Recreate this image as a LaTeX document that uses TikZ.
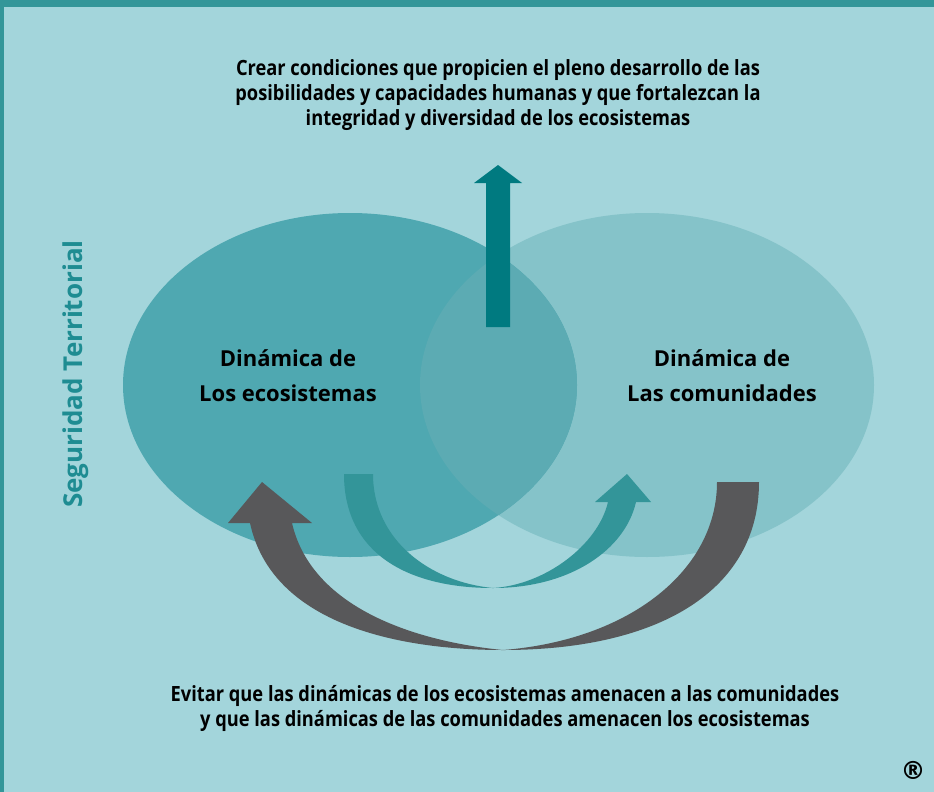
\documentclass[tikz,border=0pt]{standalone}
\usepackage{fontspec}
\setmainfont{Open Sans}
\newfontfamily\condfont[FakeStretch=0.87]{Open Sans}
\newfontfamily\symfont{DejaVu Sans}
\definecolor{bgc}{HTML}{A3D5DB}
\definecolor{framec}{HTML}{339699}
\definecolor{leftell}{HTML}{4FA8B1}
\definecolor{rightell}{HTML}{85C3C9}
\definecolor{overlapc}{HTML}{5CABB3}
\definecolor{tealarrow}{HTML}{339599}
\definecolor{uparrowc}{HTML}{007A80}
\definecolor{grayarrow}{HTML}{58585A}
\definecolor{titlec}{HTML}{1E8C92}
\tikzset{
  headtext/.style={align=center, inner sep=0pt, font=\condfont\bfseries\fontsize{21}{25}\selectfont, text=black},
  ringtext/.style={align=center, inner sep=0pt, font=\bfseries\fontsize{22}{35}\selectfont, text=black},
}
\begin{document}
\begin{tikzpicture}[x=1pt,y=-1pt]
\useasboundingbox (0,0) rectangle (934,792);
\fill[bgc] (0,0) rectangle (934,792);
\fill[framec] (0,0) rectangle (934,7);
\fill[framec] (0,0) rectangle (4,792);
% ellipses
\fill[rightell] (647,385) ellipse [x radius=227, y radius=172];
\fill[leftell] (350,385) ellipse [x radius=227, y radius=172];
\begin{scope}
\clip (350,385) ellipse [x radius=227, y radius=172];
\fill[overlapc] (647,385) ellipse [x radius=227, y radius=172];
\end{scope}
% up arrow
\fill[uparrowc] (486,327) -- (486,183) -- (474,183) -- (498,165) -- (522,183) -- (510,183) -- (510,327) -- cycle;
% teal curved arrow
\fill[tealarrow] (344,474) .. controls (344,555) and (410,588) .. (493,588)
  .. controls (570,588) and (625,550) .. (636,502) -- (651,502) -- (627,474) -- (595,502) -- (608,502)
  .. controls (598,545) and (545,585) .. (493,588)
  .. controls (430,582) and (373,540) .. (373,474) -- cycle;
% gray curved arrow
\fill[grayarrow] (759,482) .. controls (759,590) and (660,650) .. (503,650)
  .. controls (400,650) and (272,625) .. (250,523) -- (228,523) -- (262,482) -- (312,523) -- (292,523)
  .. controls (312,610) and (420,642) .. (503,650)
  .. controls (630,640) and (717,570) .. (717,482) -- cycle;
% texts
\node[headtext] (goal) at (498,95) {Crear condiciones que propicien el pleno desarrollo de las\\posibilidades y capacidades humanas y que fortalezcan la\\integridad y diversidad de los ecosistemas};
\node[ringtext] (eco) at (288,376) {Dinámica de\\Los ecosistemas};
\node[ringtext] (com) at (722,376) {Dinámica de\\Las comunidades};
\node[headtext] (avoid) at (505,708) {Evitar que las dinámicas de los ecosistemas amenacen a las comunidades\\y que las dinámicas de las comunidades amenacen los ecosistemas};
\node[rotate=90, inner sep=0pt, text=titlec, font=\bfseries\fontsize{26}{30}\selectfont] (seg) at (76,374) {Seguridad Territorial};
\node[inner sep=0pt, font=\symfont\bfseries\fontsize{25}{28}\selectfont] (reg) at (913,770) {®};
\end{tikzpicture}
\end{document}
